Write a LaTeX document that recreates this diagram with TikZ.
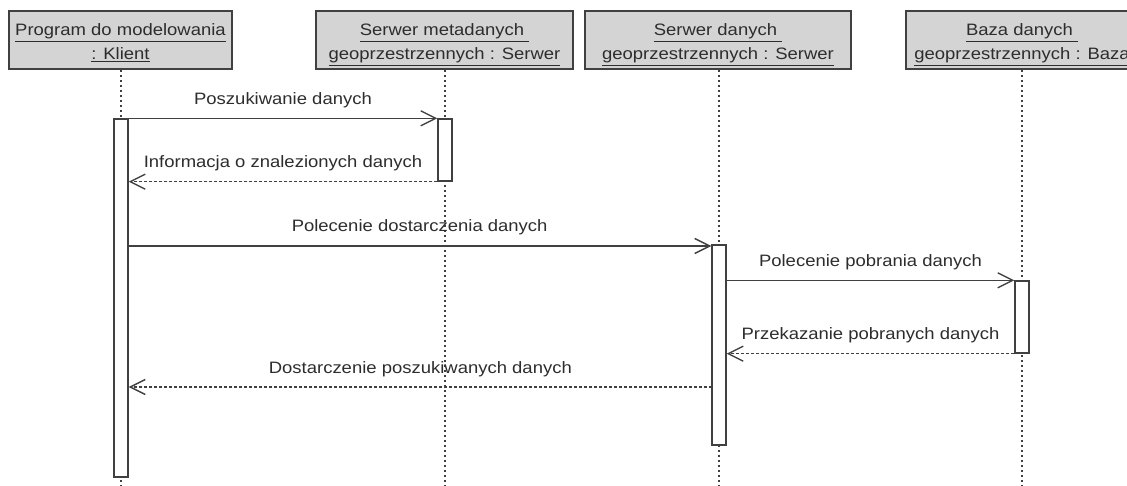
\documentclass[tikz,border=0pt]{standalone}
\usepackage{fontspec}
\setmainfont{Liberation Sans}[FakeStretch=1.12]
\usetikzlibrary{arrows.meta}
\definecolor{boxfill}{RGB}{212,212,212}
\definecolor{ink}{RGB}{64,64,64}
\definecolor{txt}{RGB}{45,45,45}
\begin{document}
\begin{tikzpicture}[x=1pt,y=-1pt,
  hdr/.style={draw=ink, line width=1.6pt, fill=boxfill, minimum height=58pt, inner sep=0pt},
  htext/.style={text=txt, font=\fontsize{16.5}{19}\selectfont, inner sep=0pt, anchor=base},
  act/.style={draw=ink, line width=1.4pt, fill=white, minimum width=14pt, inner sep=0pt},
  life/.style={draw=ink, line width=1.4pt, dash pattern=on 2.5pt off 2.5pt},
  call/.style={draw=ink, line width=1.4pt, -{Straight Barb[length=15pt,width=15pt]}},
  reply/.style={draw=ink, line width=1.4pt, dash pattern=on 3pt off 2pt, -{Straight Barb[length=15pt,width=15pt]}},
  lbl/.style={text=txt, font=\fontsize{16.5}{19}\selectfont, inner sep=0pt, anchor=base}
]
\useasboundingbox (0,0) rectangle (1127,486);
\clip (0,0) rectangle (1127,486);

% header boxes
\node[hdr, minimum width=223pt] (b1) at (120.5,40) {};
\node[hdr, minimum width=257pt] (b2) at (444.5,40) {};
\node[hdr, minimum width=266pt] (b3) at (718,40) {};
\node[hdr, minimum width=232pt] (b4) at (1022,40) {};

\node[htext] (b1t1) at (120.5,36) {\underline{Program do modelowania}};
\node[htext] (b1t2) at (120.5,60) {\underline{: Klient}};
\node[htext] (b2t1) at (444.5,36) {\underline{Serwer metadanych\ }};
\node[htext] (b2t2) at (444.5,60) {\underline{geoprzestrzennych : Serwer}};
\node[htext] (b3t1) at (718,36) {\underline{Serwer danych\ }};
\node[htext] (b3t2) at (718,60) {\underline{geoprzestrzennych : Serwer}};
\node[htext] (b4t1) at (1022,36) {\underline{Baza danych\ }};
\node[htext] (b4t2) at (1022,60) {\underline{geoprzestrzennych : Baza}};

% lifelines
\coordinate (e1) at (121,486);
\coordinate (e2) at (445,486);
\coordinate (e3) at (719,486);
\coordinate (e4) at (1022,486);
\draw[life] (b1.south -| e1) -- (e1);
\draw[life] (b2.south -| e2) -- (e2);
\draw[life] (b3.south -| e3) -- (e3);
\draw[life] (b4.south -| e4) -- (e4);

% activations
\node[act, minimum height=358pt] (a1) at (121,298) {};
\node[act, minimum height=62pt] (a2) at (445,150) {};
\node[act, minimum height=200pt] (a3) at (719,345) {};
\node[act, minimum height=72pt] (a4) at (1022,317) {};

% messages
\draw[call] (a1.north east) -- (a2.north west)
  node[lbl, midway, yshift=14pt] (l1) {Poszukiwanie danych};
\draw[reply] (a2.south west) -- (a2.south west -| a1.east)
  node[lbl, midway, yshift=14pt] (l2) {Informacja o znalezionych danych};
\coordinate (m3) at (128,246);
\draw[call] (m3) -- (m3 -| a3.west)
  node[lbl, midway, yshift=14pt] (l3) {Polecenie dostarczenia danych};
\draw[call] (a4.north west -| a3.east) -- (a4.north west)
  node[lbl, midway, yshift=14pt] (l4) {Polecenie pobrania danych};
\draw[reply] (a4.south west) -- (a4.south west -| a3.east)
  node[lbl, midway, yshift=14pt] (l5) {Przekazanie pobranych danych};
\coordinate (m6) at (712,387);
\draw[reply] (m6) -- (m6 -| a1.east)
  node[lbl, midway, yshift=14pt] (l6) {Dostarczenie poszukiwanych danych};
\end{tikzpicture}
\end{document}
